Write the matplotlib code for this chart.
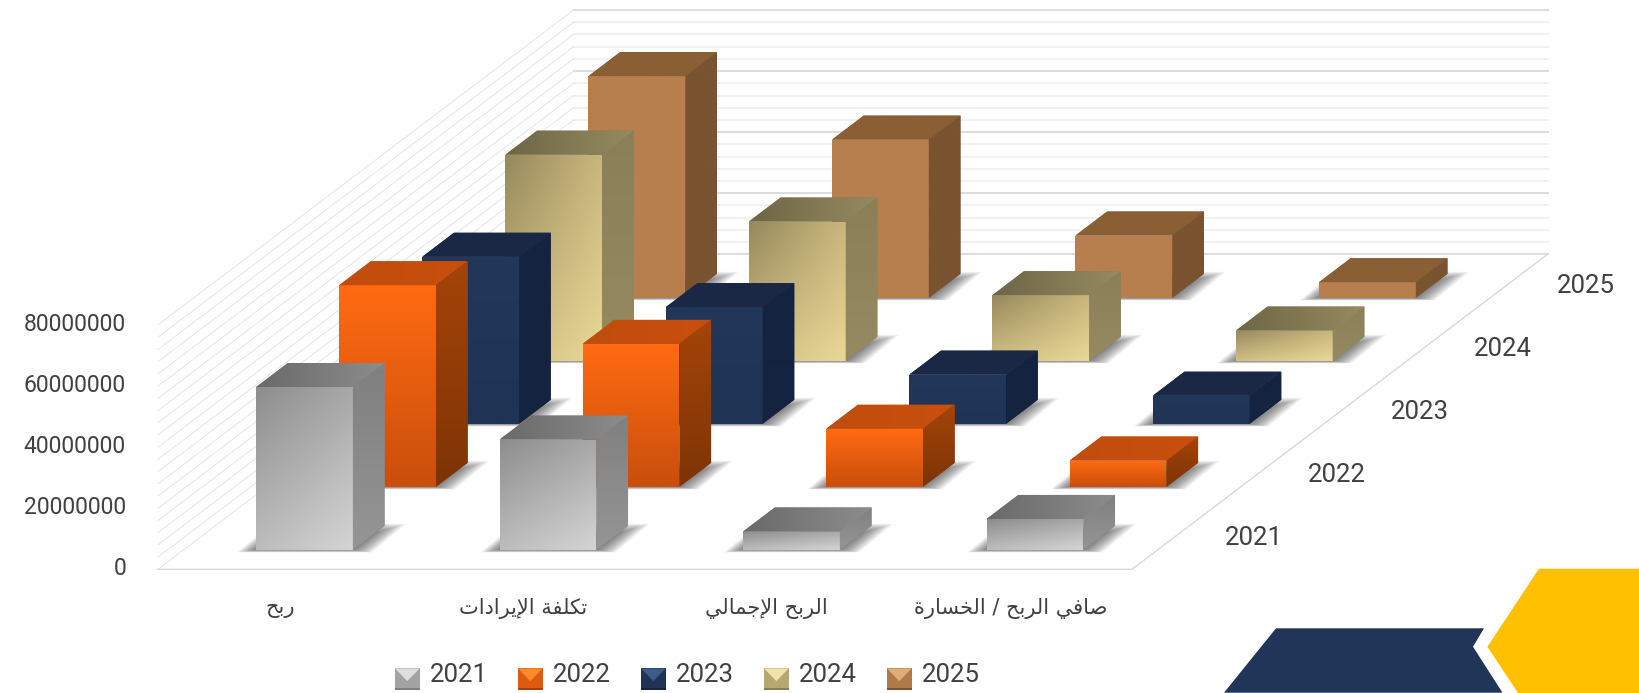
import numpy as np
import matplotlib
matplotlib.use("Agg")
import matplotlib.pyplot as plt
from matplotlib.colors import to_rgb
from matplotlib.legend_handler import HandlerBase
from matplotlib.patches import Polygon, Patch
from matplotlib.transforms import IdentityTransform, ScaledTranslation

W, H = 1639, 693

years = ["2021", "2022", "2023", "2024", "2025"]
categories = ["ربح", "تكلفة الإيرادات", "الربح الإجمالي", "صافي الربح / الخسارة"]

values_2021 = [53.3e6, 36.1e6, 6.0e6, 10.1e6]
values_2022 = [66.0e6, 46.8e6, 19.0e6, 8.6e6]
values_2023 = [54.7e6, 38.2e6, 16.1e6, 9.2e6]
values_2024 = [67.5e6, 45.6e6, 21.5e6, 9.9e6]
values_2025 = [72.6e6, 51.8e6, 20.4e6, 5.1e6]
all_values = [values_2021, values_2022, values_2023, values_2024, values_2025]

yticks = [0, 20000000, 40000000, 60000000, 80000000]

# colours: front face corners tl, tr, bl, br, then top face l, r, then side face top, bottom
face_cols = [
    (("#8e8e8e", "#a8a8a8", "#bcbcbc", "#d4d4d4"), ("#6a6a6a", "#8c8c8c"), ("#808080", "#959595")),
    (("#ff6a12", "#ff6a12", "#c94f0c", "#c94f0c"), ("#c04d0d", "#c94f0d"), ("#a44409", "#7e3406")),
    (("#22375a", "#22375a", "#1f3355", "#1f3355"), ("#1a2845", "#1a2845"), ("#14233f", "#14233f")),
    (("#978a5e", "#c8b67c", "#d0be84", "#e8d795"), ("#6e6646", "#958a60"), ("#8a7f57", "#958a60")),
    (("#b87f4e", "#b87f4e", "#b87f4e", "#b87f4e"), ("#8a5f35", "#8a5f35"), ("#7a5330", "#7a5330")),
]
swatch_light = ["#dedede", "#ff8a2a", "#3d5c8a", "#f0e2a8", "#e0ad7a"]
swatch_body = ["#a3a3a3", "#dd5a10", "#1f3355", "#b5a873", "#b07a48"]
swatch_low = ["#7f7f7f", "#a04309", "#14233f", "#8a7f57", "#7a5330"]

plt.rcParams["font.family"] = ["Roboto", "DejaVu Sans"]
txt_col = "#404040"


def shape_arabic(s):
    # matplotlib does no arabic shaping, so pick the presentation forms by hand
    forms = {
        "ا": (0xFE8D, 0xFE8E), "إ": (0xFE87, 0xFE88), "د": (0xFEA9, 0xFEAA), "ر": (0xFEAD, 0xFEAE),
        "ة": (0xFE93, 0xFE94), "ب": (0xFE8F, 0xFE90, 0xFE91, 0xFE92), "ت": (0xFE95, 0xFE96, 0xFE97, 0xFE98),
        "ج": (0xFE9D, 0xFE9E, 0xFE9F, 0xFEA0), "ح": (0xFEA1, 0xFEA2, 0xFEA3, 0xFEA4),
        "خ": (0xFEA5, 0xFEA6, 0xFEA7, 0xFEA8), "س": (0xFEB1, 0xFEB2, 0xFEB3, 0xFEB4),
        "ص": (0xFEB9, 0xFEBA, 0xFEBB, 0xFEBC), "ف": (0xFED1, 0xFED2, 0xFED3, 0xFED4),
        "ك": (0xFED9, 0xFEDA, 0xFEDB, 0xFEDC), "ل": (0xFEDD, 0xFEDE, 0xFEDF, 0xFEE0),
        "م": (0xFEE1, 0xFEE2, 0xFEE3, 0xFEE4), "ي": (0xFEF1, 0xFEF2, 0xFEF3, 0xFEF4),
    }
    lam_alef = {"ا": (0xFEFB, 0xFEFC), "إ": (0xFEF9, 0xFEFA)}
    out = []
    i = 0
    prev_joins = False
    while i < len(s):
        c = s[i]
        if c not in forms:
            out.append(c)
            prev_joins = False
            i += 1
            continue
        if c == "ل" and i + 1 < len(s) and s[i + 1] in lam_alef:
            out.append(chr(lam_alef[s[i + 1]][1 if prev_joins else 0]))
            prev_joins = False
            i += 2
            continue
        next_is_ar = i + 1 < len(s) and s[i + 1] in forms
        f = forms[c]
        if len(f) == 4:
            if prev_joins and next_is_ar:
                out.append(chr(f[3]))
            elif next_is_ar:
                out.append(chr(f[2]))
            elif prev_joins:
                out.append(chr(f[1]))
            else:
                out.append(chr(f[0]))
            prev_joins = next_is_ar
        else:
            out.append(chr(f[1] if prev_joins else f[0]))
            prev_joins = False
        i += 1
    return "".join(reversed(out))


fig = plt.figure(figsize=(W / 100, H / 100), dpi=100, facecolor="white")
ax = fig.add_axes([158 / W, (H - 569.3) / H, 974 / W, 244.3 / H])
ax.set_xlim(0, 4)
ax.set_ylim(0, 80e6)
ax.set_autoscale_on(False)
ax.patch.set_visible(False)
for sp in ax.spines.values():
    sp.set_visible(False)

# oblique depth: one series slot moves the plane this far along x and value
dep_x = 83.1 / 243.5
dep_v = 63.0 / 244.3 * 80e6
bar_w = 0.3975
bar_d = 0.381
px_x = 4 / 974
px_v = 80e6 / 244.3
dep_px = 1 / 63.0  # depth units per pixel of height on the floor


def proj(x, d, v):
    return x + d * dep_x, v + d * dep_v


# walls and floor
for v in np.arange(0, 80e6 + 1, 4e6):
    major = v % 20e6 == 0
    ax.plot(*zip(proj(0, 5, v), proj(4, 5, v)), color="#dcdcdc" if major else "#f0f0f0",
            lw=1.5 if major else 1.3, clip_on=False, zorder=1)
    ax.plot(*zip(proj(0, 0, v), proj(0, 5, v)), color="#e0e0e0", lw=0.6, clip_on=False, zorder=1)
ax.plot(*zip(proj(0, 0, 0), proj(4, 0, 0), proj(4, 5, 0)), color="#d9d9d9", lw=1.0, clip_on=False, zorder=1)


def grad_face(poly, corners, z):
    pts = np.array(poly)
    c = np.array([to_rgb(k) for k in corners])
    t, s = np.meshgrid(np.linspace(0, 1, 24), np.linspace(0, 1, 24))
    t = t[..., None]
    s = s[..., None]
    img = (1 - s) * ((1 - t) * c[0] + t * c[1]) + s * ((1 - t) * c[2] + t * c[3])
    base = Polygon(pts, closed=True, fc=c.mean(axis=0), ec="none", clip_on=False, zorder=z)
    ax.add_patch(base)
    im = ax.imshow(img, extent=(pts[:, 0].min(), pts[:, 0].max(), pts[:, 1].min(), pts[:, 1].max()),
                   origin="upper", aspect="auto", interpolation="bilinear", zorder=z)
    im.set_clip_path(Polygon(pts, closed=True, transform=ax.transData))
    im.set_clip_box(fig.bbox)


def shadow(x0, d0, z):
    # soft shadow on the floor: footprint widened a little, stacked for the blur
    n = 16
    for k in range(n):
        f = k / (n - 1)
        gx = (19 - 19 * f) * px_x
        low = (2.5 - 2.5 * f) * px_v
        back = (2 - 9 * f) * dep_px
        pts = [proj(x0 - gx, d0, -low), proj(x0 + bar_w + gx, d0, -low),
               proj(x0 + bar_w + gx, d0 + bar_d + back, 0), proj(x0 - gx, d0 + bar_d + back, 0)]
        ax.add_patch(Polygon(pts, closed=True, fc="#2a2a2a", ec="none", alpha=0.05, clip_on=False, zorder=z))


z = 2
for s_i in range(len(years) - 1, -1, -1):
    front, top, side = face_cols[s_i]
    d0 = s_i + (1 - bar_d) / 2
    d1 = d0 + bar_d
    for c_i, val in enumerate(all_values[s_i]):
        x0 = c_i + (1 - bar_w) / 2 - 0.004
        x1 = x0 + bar_w
        shadow(x0, d0, z)
        grad_face([proj(x0, d0, val), proj(x1, d0, val), proj(x1, d0, 0), proj(x0, d0, 0)], front, z + 1)
        grad_face([proj(x0, d1, val), proj(x1, d1, val), proj(x1, d0, val), proj(x0, d0, val)],
                  (top[0], top[1], top[0], top[1]), z + 1)
        grad_face([proj(x1, d0, val), proj(x1, d1, val), proj(x1, d1, 0), proj(x1, d0, 0)],
                  (side[0], side[0], side[1], side[1]), z + 1)
        z += 2

ax.set_yticks(yticks)
ax.set_yticklabels([str(t) for t in yticks], fontsize=16.5, color=txt_col)
ax.set_xticks([i + 0.5 for i in range(len(categories))])
ax.set_xticklabels([shape_arabic(c) for c in categories], fontsize=15, color=txt_col, family="DejaVu Sans")
ax.tick_params(axis="y", length=0, pad=23)
ax.tick_params(axis="x", length=0, pad=21)
# tick labels sit a little above their gridline in the reference
nudge = ScaledTranslation(0, 2.2 / 72, fig.dpi_scale_trans)
for lab in ax.get_yticklabels():
    lab.set_transform(lab.get_transform() + nudge)

# series names on the depth axis
for s_i, yr in enumerate(years):
    tx, tv = proj(4.328, s_i + 0.5, 0)
    ax.text(tx, tv, yr, ha="center", va="center", fontsize=18.5, color=txt_col, clip_on=False, zorder=500)


class BevelHandler(HandlerBase):
    def create_artists(self, legend, orig, xd, yd, width, height, fontsize, trans):
        i = orig.idx
        x0, y0 = -xd, -yd - 4.2
        x1, y1 = x0 + width, y0 + height
        xm = x0 + width / 2
        ym = y0 + height * 0.42
        body = Polygon([(x0, y0), (x1, y0), (x1, y1), (x0, y1)], fc=swatch_body[i], ec="none", transform=trans)
        up = Polygon([(x0, y1), (x1, y1), (xm, ym)], fc=swatch_light[i], ec="none", transform=trans)
        low = Polygon([(x0, y0), (x1, y0), (x1, y0 + height * 0.1), (x0, y0 + height * 0.1)],
                      fc=swatch_low[i], ec="none", transform=trans)
        return [body, up, low]


handles = []
for s_i, yr in enumerate(years):
    p = Patch(label=yr)
    p.idx = s_i
    handles.append(p)
ax.legend(handles=handles, loc="center left", bbox_to_anchor=(395 / W, (H - 675) / H),
          bbox_transform=fig.transFigure, ncol=5, frameon=False, fontsize=18.5, labelcolor=txt_col,
          handler_map={Patch: BevelHandler()}, handlelength=0.96, handleheight=0.93, handletextpad=0.40,
          columnspacing=1.17, borderpad=0, borderaxespad=0)

# corner decoration
pix = IdentityTransform()
for pts, col in [([(1224, 0.3), (1276, 64.7), (1484, 64.7), (1473, 46.3), (1502.5, 0.3)], "#203557"),
                 ([(1539, 124.3), (1639, 124.3), (1639, 0), (1518, 0), (1487.4, 46.3)], "#ffc000")]:
    fig.add_artist(Polygon(pts, closed=True, fc=col, ec="none", transform=pix))

fig.savefig("out.png", dpi=100)
